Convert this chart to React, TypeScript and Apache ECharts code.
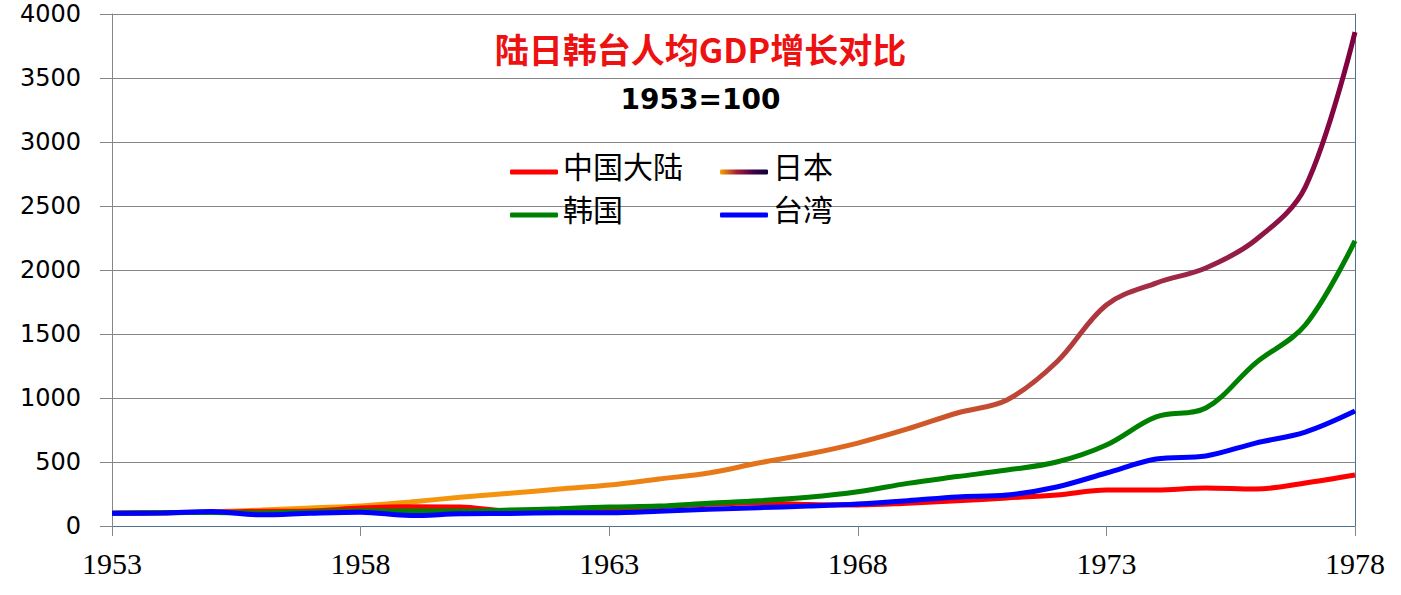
import React, { useEffect, useRef } from "react";
import * as echarts from "echarts";

const years = ["1953","1954","1955","1956","1957","1958","1959","1960","1961","1962","1963","1964","1965","1966","1967","1968","1969","1970","1971","1972","1973","1974","1975","1976","1977","1978"];
const china = [100,104,108,115,118,140,150,148,118,120,130,150,170,180,168,165,178,197,219,242,281,281,297,289,336,398];
const japan = [100,104,112,125,141,156,188,224,255,289,320,367,414,492,562,648,758,883,985,1281,1727,1898,2016,2234,2648,3859];
const korea = [100,104,106,102,110,117,118,117,125,135,148,156,178,197,224,267,333,386,437,500,633,852,922,1273,1570,2227];
const taiwan = [100,101,113,87,100,108,82,95,98,103,104,115,130,143,156,172,197,227,242,305,414,523,547,648,734,898];

const titleText = "陆日韩台人均GDP增长对比";
const subText = "1953=100";

export default function App() {
  const ref = useRef<HTMLDivElement>(null);
  useEffect(() => {
    document.body.style.margin = "0";
    const chart = echarts.init(ref.current!, null, { renderer: "svg" });
    const jpLine = new echarts.graphic.LinearGradient(0, 0, 1, 0, [
      { offset: 0, color: "#f7a800" },
      { offset: 0.35, color: "#f39010" },
      { offset: 0.6, color: "#dc6520" },
      { offset: 0.75, color: "#b8413a" },
      { offset: 0.87, color: "#9a2548" },
      { offset: 1, color: "#800040" },
    ]);
    const jpLegend = new echarts.graphic.LinearGradient(0, 0, 1, 0, [
      { offset: 0, color: "#f7a500" },
      { offset: 0.35, color: "#a0203a" },
      { offset: 0.7, color: "#40004a" },
      { offset: 1, color: "#0a0030" },
    ]);
    const legendBase = {
      icon: "roundRect",
      itemWidth: 48,
      itemHeight: 5,
      itemGap: 0,
      formatter: (name: string) => `{t|${name}}`,
      textStyle: {
        fontFamily: "Noto Sans CJK SC",
        fontSize: 30,
        color: "#000",
        rich: {
          t: { fontFamily: "Noto Sans CJK SC", fontSize: 30, color: "#000", padding: [0, 0, 14, 0] },
        },
      },
      padding: 0,
    };
    const lineBase = { type: "line", smooth: 0.35, symbol: "none", showSymbol: false };
    chart.setOption({
      animation: false,
      backgroundColor: "#fff",
      title: [
        {
          text: titleText,
          left: "center",
          top: 31,
          padding: 0,
          textStyle: { fontFamily: "Noto Sans CJK SC", fontWeight: "bold", fontSize: 34, color: "#ee1111" },
        },
        {
          text: subText,
          left: "center",
          top: 85,
          padding: 0,
          textStyle: { fontFamily: "DejaVu Sans", fontWeight: "bold", fontSize: 28, color: "#000" },
        },
      ],
      legend: [
        { ...legendBase, left: 510, top: 150, data: [{ name: "中国大陆", itemStyle: { color: "#ff0000" } }] },
        { ...legendBase, left: 720, top: 150, data: [{ name: "日本", itemStyle: { color: jpLegend } }] },
        { ...legendBase, left: 510, top: 193, data: [{ name: "韩国", itemStyle: { color: "#008000" } }] },
        { ...legendBase, left: 720, top: 193, data: [{ name: "台湾", itemStyle: { color: "#0000ff" } }] },
      ],
      grid: { left: 112, right: 46, top: 14, bottom: 69, containLabel: false },
      xAxis: [
        {
          type: "category",
          data: years,
          boundaryGap: false,
          axisLine: { lineStyle: { color: "#868686", width: 1 } },
          axisTick: { interval: 4, length: 10, lineStyle: { color: "#868686" } },
          axisLabel: { interval: 4, margin: 22, fontFamily: "Liberation Serif", fontSize: 30, color: "#000" },
          splitLine: { show: false },
        },
        {
          type: "category",
          data: years,
          position: "top",
          boundaryGap: false,
          axisLine: { lineStyle: { color: "#4f7191", width: 1 } },
          axisTick: { show: false },
          axisLabel: { show: false },
        },
      ],
      yAxis: [
        {
          type: "value",
          min: 0,
          max: 4000,
          interval: 500,
          axisLine: { show: true, lineStyle: { color: "#868686", width: 1 } },
          axisTick: { show: true, length: 12, lineStyle: { color: "#868686" } },
          axisLabel: {
            margin: 31,
            fontFamily: "DejaVu Sans",
            fontSize: 24,
            color: "#000",
            formatter: (v: number) => String(v),
          },
          splitLine: { lineStyle: { color: "#868686", width: 1 } },
        },
        {
          type: "value",
          min: 0,
          max: 4000,
          interval: 500,
          position: "right",
          axisLine: { show: true, lineStyle: { color: "#4f7191", width: 1 } },
          axisTick: { show: false },
          axisLabel: { show: false },
          splitLine: { show: false },
        },
      ],
      series: [
        { ...lineBase, name: "中国大陆", data: china, itemStyle: { color: "#ff0000" }, lineStyle: { color: "#ff0000", width: 5 }, z: 4 },
        { ...lineBase, name: "日本", data: japan, itemStyle: { color: jpLegend }, lineStyle: { color: jpLine, width: 5 }, z: 3 },
        { ...lineBase, name: "韩国", data: korea, itemStyle: { color: "#008000" }, lineStyle: { color: "#008000", width: 5 }, z: 5 },
        { ...lineBase, name: "台湾", data: taiwan, itemStyle: { color: "#0000ff" }, lineStyle: { color: "#0000ff", width: 5 }, z: 6 },
      ],
    });
    return () => chart.dispose();
  }, []);
  return <div ref={ref} style={{ width: 1401, height: 595 }} />;
}
